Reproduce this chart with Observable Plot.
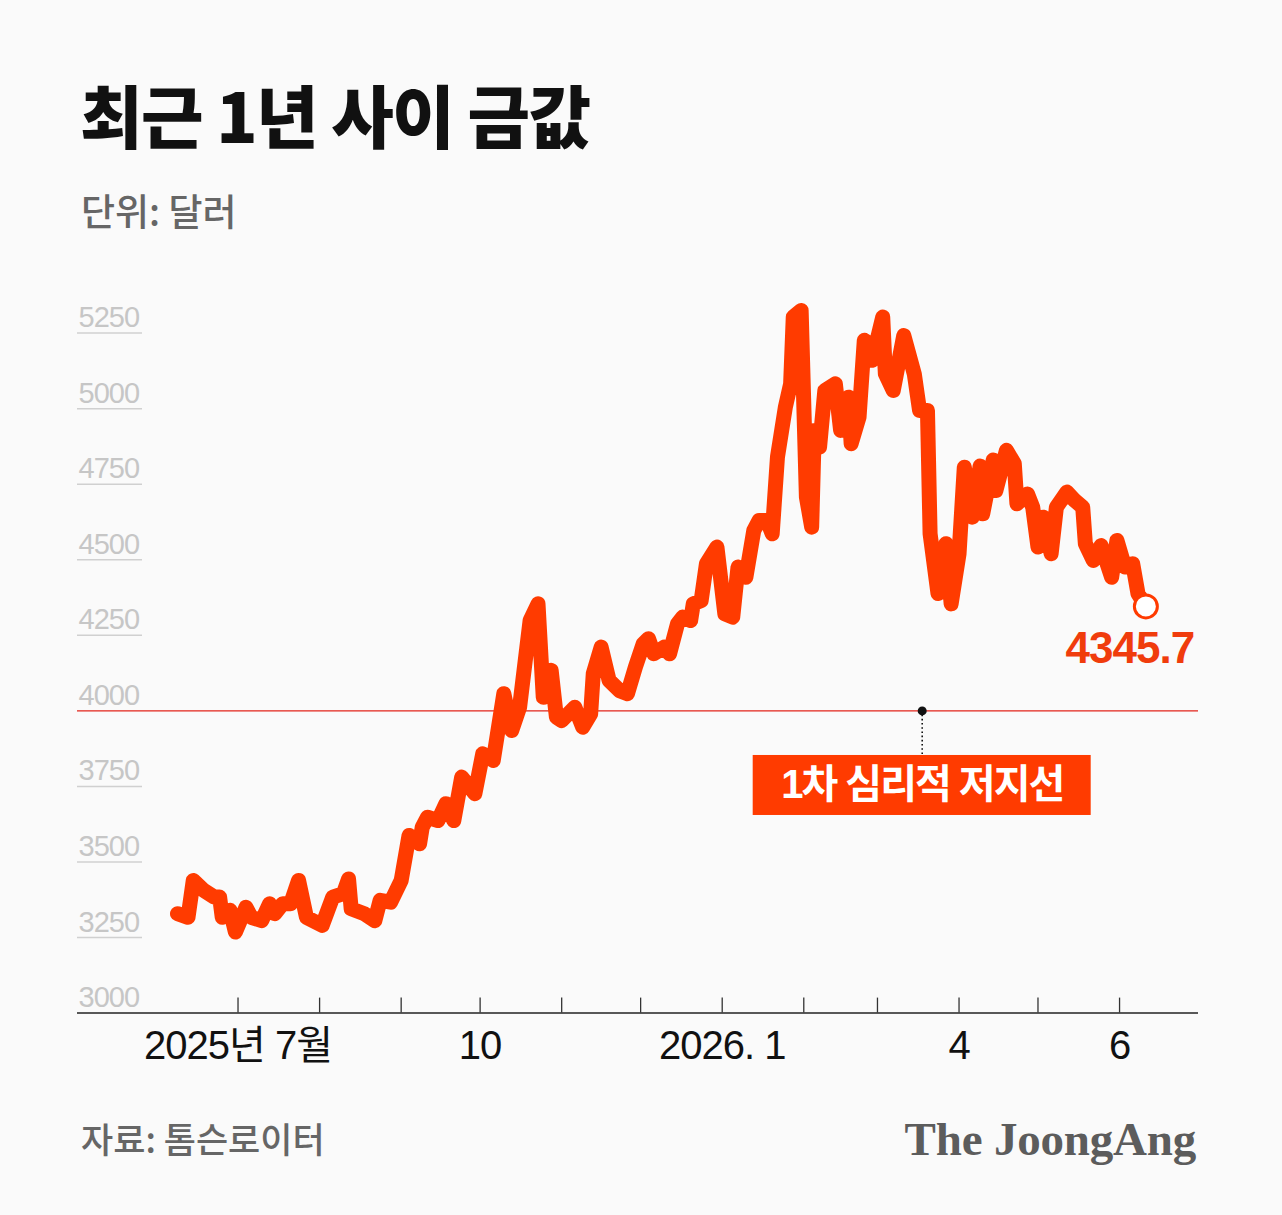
<!DOCTYPE html>
<html><head><meta charset="utf-8">
<script src="https://cdn.jsdelivr.net/npm/d3@7"></script>
<script src="https://cdn.jsdelivr.net/npm/@observablehq/plot@0.6"></script>
<style>
html,body{margin:0;padding:0;background:#fafafa;}
body{width:1282px;height:1215px;overflow:hidden;position:relative;}
#title{position:absolute;left:80px;top:80px;font-family:'Noto Sans CJK KR',sans-serif;font-weight:900;font-size:68px;line-height:1;letter-spacing:-1.5px;color:#111;white-space:nowrap;}
#sub{position:absolute;left:81px;top:192px;font-family:'Noto Sans CJK KR',sans-serif;font-weight:500;font-size:37px;line-height:1;letter-spacing:0px;color:#666;white-space:nowrap;}
#chart{position:absolute;left:0;top:260px;}
#source{position:absolute;left:81px;top:1120px;font-family:'Noto Sans CJK KR',sans-serif;font-weight:500;font-size:35px;line-height:1;letter-spacing:0px;color:#666;white-space:nowrap;}
#logo{position:absolute;right:86px;top:1116px;font-family:'Liberation Serif','DejaVu Serif',serif;font-weight:700;font-size:47px;line-height:1;color:#5c5c5c;letter-spacing:-0.2px;white-space:nowrap;}
</style></head>
<body>
<div id="title">최근 1년 사이 금값</div>
<div id="sub">단위: 달러</div>
<div id="chart"></div>
<div id="source">자료: 톰슨로이터</div>
<div id="logo">The JoongAng</div>
<script>
const dates = [
 "2025-06-08","2025-06-12","2025-06-14","2025-06-18","2025-06-22","2025-06-24","2025-06-25","2025-06-28","2025-06-30",
 "2025-07-04","2025-07-06","2025-07-10","2025-07-13","2025-07-15","2025-07-18","2025-07-21","2025-07-24","2025-07-27",
 "2025-08-02","2025-08-06","2025-08-10","2025-08-12","2025-08-13","2025-08-18","2025-08-22","2025-08-24","2025-08-28",
 "2025-09-01","2025-09-04","2025-09-08","2025-09-09","2025-09-11","2025-09-15","2025-09-18","2025-09-21","2025-09-24","2025-09-29",
 "2025-10-02","2025-10-06","2025-10-10","2025-10-13","2025-10-16","2025-10-20","2025-10-23","2025-10-25","2025-10-28","2025-10-30",
 "2025-11-01","2025-11-06","2025-11-09","2025-11-12","2025-11-13","2025-11-16","2025-11-19","2025-11-23","2025-11-26","2025-11-29",
 "2025-12-02","2025-12-04","2025-12-06","2025-12-10","2025-12-12","2025-12-15","2025-12-17","2025-12-20","2025-12-21","2025-12-24","2025-12-26","2025-12-30",
 "2026-01-02","2026-01-05","2026-01-07","2026-01-10","2026-01-13","2026-01-15","2026-01-18","2026-01-20","2026-01-22","2026-01-25","2026-01-27","2026-01-28","2026-01-31",
 "2026-02-02","2026-02-04","2026-02-05","2026-02-07","2026-02-09","2026-02-13","2026-02-15","2026-02-18","2026-02-19","2026-02-22","2026-02-24","2026-02-26","2026-02-27",
 "2026-03-03","2026-03-04","2026-03-07","2026-03-11","2026-03-15","2026-03-17","2026-03-20","2026-03-21","2026-03-24","2026-03-27","2026-03-29",
 "2026-04-01","2026-04-03","2026-04-06","2026-04-09","2026-04-10","2026-04-14","2026-04-15","2026-04-19","2026-04-22","2026-04-23","2026-04-27","2026-04-29",
 "2026-05-01","2026-05-03","2026-05-06","2026-05-08","2026-05-12","2026-05-15","2026-05-18","2026-05-19","2026-05-22","2026-05-25","2026-05-29","2026-05-31",
 "2026-06-03","2026-06-06","2026-06-08","2026-06-11"
];
const prices = [
 3329,3317,3439,3406,3384,3384,3317,3340,3268,
 3350,3317,3306,3362,3329,3362,3362,3439,3317,
 3290,3384,3395,3444,3345,3329,3306,3373,3367,
 3439,3588,3560,3615,3648,3637,3693,3637,3781,3726,
 3858,3836,4057,3935,4012,4299,4354,4045,4134,3979,
 3968,4012,3946,3990,4123,4211,4101,4067,4057,4145,
 4222,4239,4189,4211,4189,4288,4310,4299,4354,4365,4487,4542,
 4321,4310,4476,4442,4597,4630,4630,4586,4840,5005,5082,5303,5325,
 4707,4608,4928,4873,5060,5082,4928,5038,4884,4972,5226,5215,5160,
 5303,5115,5060,5242,5115,4994,4994,4586,4388,4553,4354,
 4520,4806,4641,4810,4652,4830,4729,4862,4818,4685,4718,4674,
 4542,4641,4520,4674,4724,4696,4674,4553,4498,4547,4442,4564,
 4476,4487,4388,4345.7
];
const yTicks = [3000,3250,3500,3750,4000,4250,4500,4750,5000,5250];
const tickMonths = ["2025-07-01","2025-08-01","2025-09-01","2025-10-01","2025-11-01","2025-12-01",
                    "2026-01-01","2026-02-01","2026-03-01","2026-04-01","2026-05-01","2026-06-01"];
const tickLabelDates = ["2025-07-01","2025-10-01","2026-01-01","2026-04-01","2026-06-01"];
const tickLabels = ["2025년 7월","10","2026. 1","4","6"];
const supportLevel = 4000;
const supportLabel = "1차 심리적 저지선";
const supportDate = "2026-03-18";
const xDomain = ["2025-05-01","2026-07-01"];

const data = dates.map((d,i)=>({date:new Date(d), price:prices[i]}));
const last = data[data.length-1];
const anno = [{date:new Date(supportDate), level:supportLevel, label:supportLabel}];
const RED = "#ff3b00";
const W = 1282, H = 820, ML = 77, MR = 84, MT = 72.6, MB = 67.4;
const frameW = W - ML - MR, frameH = H - MT - MB;

const plot = Plot.plot({
  width:W, height:H,
  marginTop:MT, marginBottom:MB, marginLeft:ML, marginRight:MR,
  x:{type:"utc", domain:xDomain.map(d=>new Date(d)), axis:null},
  y:{domain:[3000,5250], axis:null},
  style:{fontFamily:"'Liberation Sans','Noto Sans CJK KR',sans-serif", background:"#fafafa", overflow:"visible", letterSpacing:"-1px"},
  marks:[
    Plot.ruleY(yTicks.filter(v=>v!==3000 && v!==supportLevel), {y:d=>d, insetRight:frameW-65, stroke:"#d0d0d0", strokeWidth:1.5}),
    Plot.text(yTicks, {y:d=>d, text:d=>String(d), frameAnchor:"left", textAnchor:"start", lineAnchor:"bottom", dx:1, dy:-6, fontSize:29, fill:"#c6c6c6"}),
    Plot.ruleY([supportLevel], {stroke:"#e2231a", strokeWidth:1.2}),
    Plot.ruleY([3000], {stroke:"#222", strokeWidth:1.5}),
    Plot.ruleX(tickMonths.map(d=>new Date(d)), {x:d=>d, insetTop:frameH-15, stroke:"#333", strokeWidth:1.3}),
    Plot.text(tickLabelDates.map((d,i)=>({date:new Date(d), label:tickLabels[i]})), {x:"date", text:"label", frameAnchor:"bottom", lineAnchor:"middle", dy:33, fontSize:40, fill:"#111"}),
    Plot.line(data, {x:"date", y:"price", stroke:RED, strokeWidth:15, strokeLinejoin:"round", strokeLinecap:"round"}),
    Plot.ruleX(anno, {x:"date", y1:"level", y2:"level", insetBottom:-44.6, stroke:"#111", strokeWidth:1.6, strokeDasharray:"1.6,2.6"}),
    Plot.rect(anno, {x1:"date", x2:"date", y1:"level", y2:"level", insetLeft:-169, insetRight:-169, insetTop:44.6, insetBottom:-104.6, fill:RED}),
    Plot.dot(anno, {x:"date", y:"level", r:4.5, fill:"#111"}),
    Plot.text(anno, {x:"date", y:"level", text:"label", dy:74.6, lineAnchor:"middle", fontSize:40, fontWeight:"bold", fill:"#fff"}),
    Plot.dot([last], {x:"date", y:"price", r:11.5, fill:"#fff", stroke:RED, strokeWidth:3}),
    Plot.text([last], {x:"date", y:"price", text:d=>d.price.toFixed(1), dx:-16, dy:43, lineAnchor:"middle", fontSize:44, fontWeight:"bold", fill:"#f03c0c"})
  ]
});
d3.select(plot).selectAll("text").filter(function(){return this.textContent===supportLabel;}).attr("letter-spacing","-2px");
document.getElementById("chart").appendChild(plot);
</script>
</body></html>
